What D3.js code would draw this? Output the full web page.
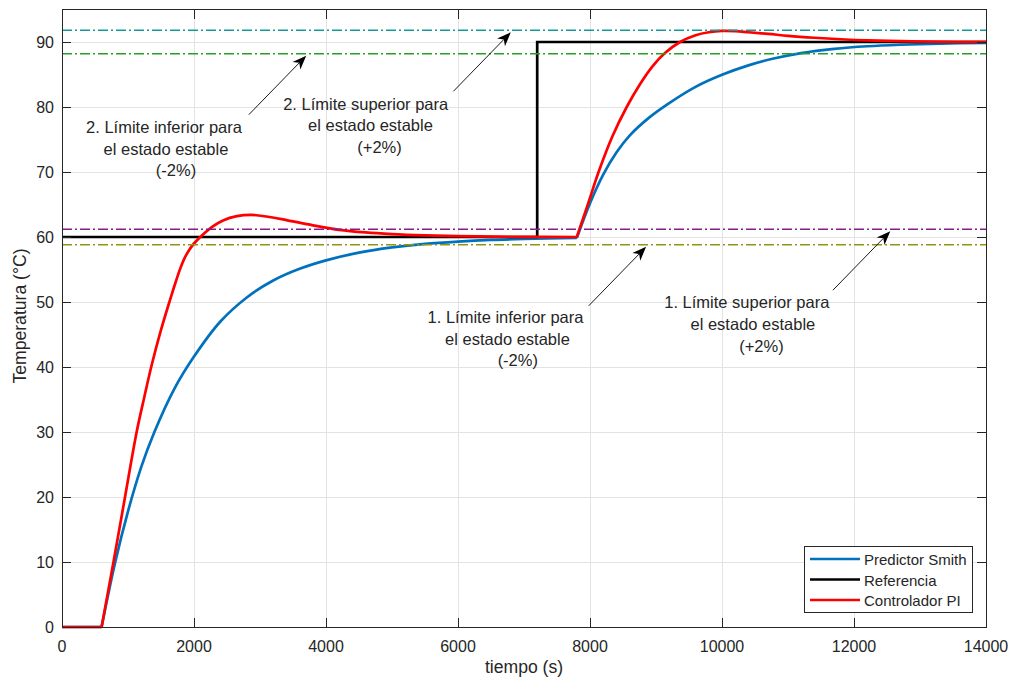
<!DOCTYPE html>
<html>
<head>
<meta charset="utf-8">
<script src="https://cdn.jsdelivr.net/npm/d3@7"></script>
<style>
  body { margin: 0; background: #fff; }
  svg { display: block; }
  text { font-family: "Liberation Sans", Arial, Helvetica, sans-serif; fill: #262626; }
</style>
</head>
<body>
<svg id="chart" width="1013" height="683"></svg>
<script>
// ---- data -------------------------------------------------------------
const xTicks = [0, 2000, 4000, 6000, 8000, 10000, 12000, 14000];
const yTicks = [0, 10, 20, 30, 40, 50, 60, 70, 80, 90];

// Predictor Smith response (time in s, temperature in °C)
const smithTime = [0, 600, 800, 1000, 1200, 1400, 1700, 2000, 2400, 2800, 3200, 3600, 4000, 4500, 5000, 5500, 6000, 6500, 7000, 7800,
                   8000, 8200, 8400, 8600, 8900, 9200, 9600, 10000, 10400, 10800, 11200, 11700, 12200, 12700, 13300, 14000];
const smithTemp = [0, 0, 9.7, 17.8, 24.6, 30.0, 36.6, 41.6, 47.0, 50.7, 53.3, 55.1, 56.4, 57.6, 58.4, 58.95, 59.3, 59.55, 59.7, 59.85,
                   65.2, 69.6, 73.0, 75.6, 78.4, 80.6, 83.1, 84.95, 86.4, 87.5, 88.3, 88.95, 89.35, 89.58, 89.75, 89.87];

// Reference (set point)
const refTime = [0, 7200, 7200, 14000];
const refTemp = [60, 60, 90, 90];

// PI controller response
const piTime = [0, 600, 780, 955, 1131, 1250, 1359, 1500, 1636, 1720, 1790, 1850, 1920, 2000, 2116, 2280, 2440, 2650, 2870,
                3100, 3400, 3800, 4200, 4600, 5000, 5500, 6000, 7000, 7800,
                7970, 8130, 8340, 8556, 8750, 8950, 9136, 9364, 9600, 9800, 10000, 10200,
                10400, 10700, 11000, 11400, 11800, 12200, 12700, 13200, 14000];
const piTemp = [0, 0, 10, 20, 30, 35.5, 40.3, 45.7, 50.3, 53.0, 55.1, 56.6, 57.9, 59.0, 60.2, 61.6, 62.55, 63.2, 63.4,
                63.15, 62.6, 61.8, 61.1, 60.7, 60.45, 60.25, 60.12, 60.02, 60.0,
                65.1, 70, 75.5, 80.0, 83.4, 86.3, 88.3, 90.0, 91.05, 91.5, 91.7, 91.66,
                91.5, 91.25, 90.95, 90.65, 90.42, 90.25, 90.13, 90.06, 90.01];

// Points where the responses switch from dead time to a ramp (kept as sharp corners)
const cornerTimes = [600, 7800];

// ±2% steady-state bands
const limitValues = [91.8, 88.2, 61.2, 58.8];
const limitColors = ["#129a9a", "#24a024", "#861c88", "#949410"];

const seriesNames = ["Predictor Smith", "Referencia", "Controlador PI"];
const seriesColors = ["#0072BD", "#000000", "#FF0000"];

// Annotations: text lines and the band point each arrow points to
const noteLines = [
  ["2. Límite inferior para", "el estado estable", "(-2%)"],
  ["2. Límite superior para", "el estado estable", "(+2%)"],
  ["1. Límite inferior para", "el estado estable", "(-2%)"],
  ["1. Límite superior para", "el estado estable", "(+2%)"]
];
const arrowTime = [3700, 6800, 8850, 12550];
const arrowLevel = [88.2, 91.8, 58.8, 61.2];

// ---- layout -----------------------------------------------------------
const plot = { left: 62, right: 986, top: 9.5, bottom: 627 };
const noteLayout = [
  { cx: [164, 166, 176],       by: [133, 154.5, 176] },
  { cx: [365.7, 370.5, 379.5], by: [109.5, 131, 152.5] },
  { cx: [505.5, 507.5, 517.8], by: [323, 344.5, 366] },
  { cx: [746.8, 752.9, 761.4], by: [308, 330, 351.5] }
];

const svg = d3.select("#chart");
const x = d3.scaleLinear().domain([0, 14000]).range([plot.left, plot.right]);
const y = d3.scaleLinear().domain([0, 95]).range([plot.bottom, plot.top]);

// background
svg.append("rect").attr("width", 1013).attr("height", 683).attr("fill", "#fff");

// grid
const grid = svg.append("g").attr("shape-rendering", "crispEdges").attr("stroke", "#e3e3e3").attr("stroke-width", 1);
xTicks.forEach(t => grid.append("line").attr("x1", x(t)).attr("x2", x(t)).attr("y1", plot.top).attr("y2", plot.bottom));
yTicks.forEach(v => grid.append("line").attr("x1", plot.left).attr("x2", plot.right).attr("y1", y(v)).attr("y2", y(v)));

// curves: each response is split at the dead-time corners so they stay sharp
function splitSeries(times, temps) {
  const pts = times.map((t, i) => [t, temps[i]]);
  const segs = [];
  let cur = [];
  pts.forEach(p => {
    cur.push(p);
    if (cornerTimes.includes(p[0]) && cur.length > 1) {
      segs.push(cur);
      cur = [p];
    }
  });
  if (cur.length > 1) segs.push(cur);
  return segs;
}
const smoothLine = d3.line().x(d => x(d[0])).y(d => y(d[1])).curve(d3.curveCatmullRom.alpha(0.5));
const straightLine = d3.line().x(d => x(d[0])).y(d => y(d[1]));

const curves = svg.append("g").attr("fill", "none").attr("stroke-linejoin", "round");
function drawSmooth(times, temps, color) {
  const d = splitSeries(times, temps).map(s => smoothLine(s)).join("");
  curves.append("path").attr("d", d).attr("stroke", color).attr("stroke-width", 2.7);
}
drawSmooth(smithTime, smithTemp, seriesColors[0]);
curves.append("path")
  .attr("d", straightLine(refTime.map((t, i) => [t, refTemp[i]])))
  .attr("stroke", seriesColors[1]).attr("stroke-width", 2.7).attr("stroke-linejoin", "miter");
drawSmooth(piTime, piTemp, seriesColors[2]);

// steady-state bands (dash-dot)
limitValues.forEach((v, i) => {
  svg.append("line")
    .attr("x1", x(0)).attr("x2", x(14000)).attr("y1", y(v)).attr("y2", y(v))
    .attr("stroke", limitColors[i]).attr("stroke-width", 1.4)
    .attr("stroke-dasharray", "10,3,2,3");
});

// axes frame and ticks
const axes = svg.append("g").attr("shape-rendering", "crispEdges").attr("stroke", "#262626").attr("stroke-width", 1);
const tickLen = 9;
axes.append("rect").attr("x", plot.left).attr("y", plot.top)
  .attr("width", plot.right - plot.left).attr("height", plot.bottom - plot.top).attr("fill", "none");
xTicks.forEach(t => {
  axes.append("line").attr("x1", x(t)).attr("x2", x(t)).attr("y1", plot.bottom).attr("y2", plot.bottom - tickLen);
  axes.append("line").attr("x1", x(t)).attr("x2", x(t)).attr("y1", plot.top).attr("y2", plot.top + tickLen);
});
yTicks.forEach(v => {
  axes.append("line").attr("x1", plot.left).attr("x2", plot.left + tickLen).attr("y1", y(v)).attr("y2", y(v));
  axes.append("line").attr("x1", plot.right).attr("x2", plot.right - tickLen).attr("y1", y(v)).attr("y2", y(v));
});

// tick labels
svg.append("g").selectAll("text").data(xTicks).join("text")
  .attr("x", d => x(d)).attr("y", 652).attr("text-anchor", "middle")
  .attr("font-size", 16).text(d => d);
svg.append("g").selectAll("text").data(yTicks).join("text")
  .attr("x", plot.left - 8).attr("y", d => y(d)).attr("dy", "0.35em").attr("text-anchor", "end")
  .attr("font-size", 16).text(d => d);

// axis labels
svg.append("text").attr("x", (plot.left + plot.right) / 2).attr("y", 673)
  .attr("text-anchor", "middle").attr("font-size", 17.6).text("tiempo (s)");
svg.append("text").attr("transform", "translate(26,316) rotate(-90)")
  .attr("text-anchor", "middle").attr("font-size", 17.6).text("Temperatura (°C)");

// annotations
noteLines.forEach((lines, i) => {
  const g = svg.append("g");
  lines.forEach((s, j) => {
    g.append("text").attr("x", noteLayout[i].cx[j]).attr("y", noteLayout[i].by[j])
      .attr("text-anchor", "middle").attr("font-size", 16.5).text(s);
  });
});

// arrows
const arrowDx = -57.4, arrowDy = 59;
arrowTime.forEach((t, i) => {
  const tx = x(t), ty = y(arrowLevel[i]) + 2;
  const sx = tx + arrowDx, sy = ty + arrowDy;
  const len = Math.hypot(tx - sx, ty - sy);
  const ux = (tx - sx) / len, uy = (ty - sy) / len;
  const px = -uy, py = ux;
  const headLen = 14, headW = 5.5, notch = 4;
  svg.append("line").attr("x1", sx).attr("y1", sy)
    .attr("x2", tx - ux * (headLen - notch)).attr("y2", ty - uy * (headLen - notch))
    .attr("stroke", "#000").attr("stroke-width", 0.9);
  const bx = tx - ux * headLen, by = ty - uy * headLen;
  const pts = [
    [tx, ty],
    [bx + px * headW, by + py * headW],
    [tx - ux * (headLen - notch), ty - uy * (headLen - notch)],
    [bx - px * headW, by - py * headW]
  ];
  svg.append("path").attr("d", "M" + pts.map(p => p.join(",")).join("L") + "Z").attr("fill", "#000");
});

// legend
const legend = svg.append("g");
legend.append("rect").attr("x", 804.5).attr("y", 546.5).attr("width", 168).attr("height", 66)
  .attr("fill", "#fff").attr("stroke", "#262626").attr("stroke-width", 1).attr("shape-rendering", "crispEdges");
seriesNames.forEach((name, i) => {
  const ly = 559 + i * 20.5;
  legend.append("line").attr("x1", 810).attr("x2", 860).attr("y1", ly).attr("y2", ly)
    .attr("stroke", seriesColors[i]).attr("stroke-width", 2.7);
  legend.append("text").attr("x", 864).attr("y", ly + 6).attr("font-size", 15).text(name);
});
</script>
</body>
</html>
